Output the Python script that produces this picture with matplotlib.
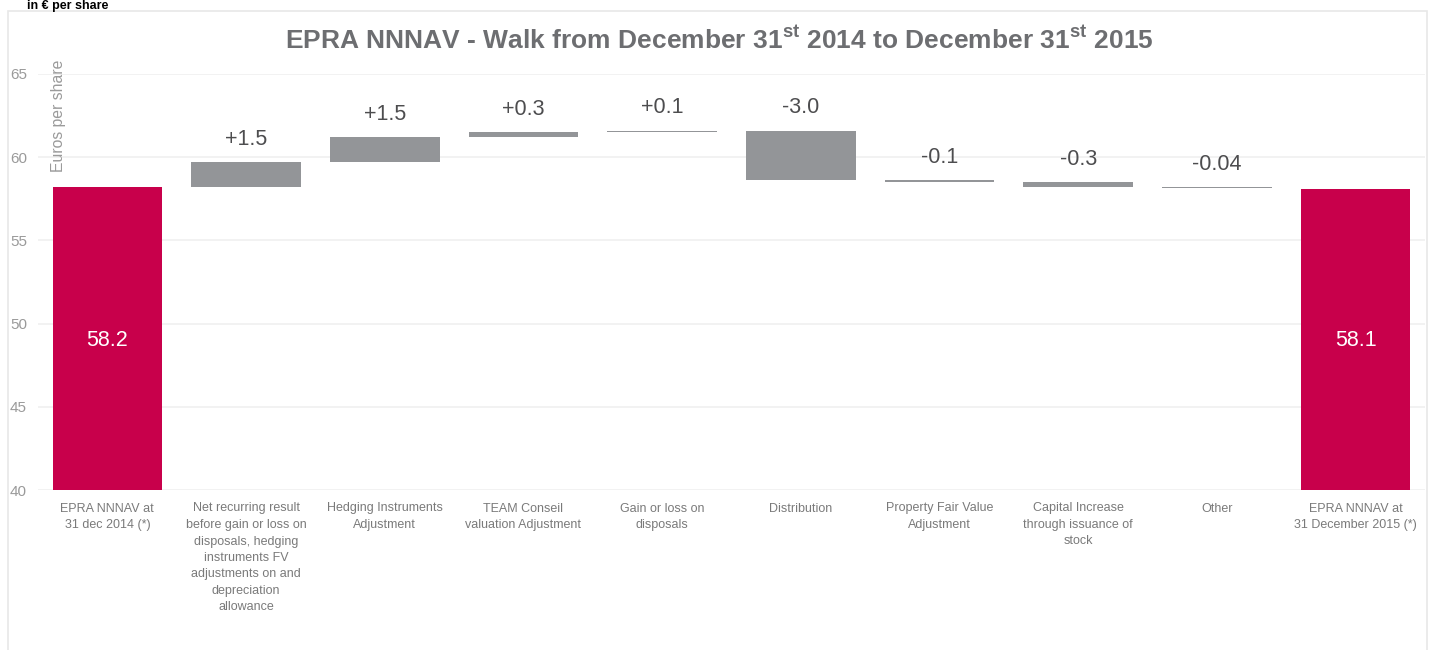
import matplotlib
matplotlib.use('agg')
import matplotlib.pyplot as plt
from matplotlib.patches import Rectangle
import numpy as np

plt.rcParams['font.family'] = ['Liberation Sans', 'DejaVu Sans']
plt.rcParams['mathtext.fontset'] = 'custom'
plt.rcParams['mathtext.rm'] = 'Liberation Sans:bold'

# data
categories = [
    "EPRA NNNAV at\n31 dec 2014 (*)",
    "Net recurring result\nbefore gain or loss on\ndisposals, hedging\ninstruments FV\nadjustments on and\ndepreciation\nallowance",
    "Hedging Instruments\nAdjustment",
    "TEAM Conseil\nvaluation Adjustment",
    "Gain or loss on\ndisposals",
    "Distribution",
    "Property Fair Value\nAdjustment",
    "Capital Increase\nthrough issuance of\nstock",
    "Other",
    "EPRA NNNAV at\n31 December 2015 (*)",
]
start_value = 58.2
end_value = 58.1
deltas = [1.5, 1.5, 0.3, 0.1, -3.0, -0.1, -0.3, -0.04]
delta_labels = ["+1.5", "+1.5", "+0.3", "+0.1", "-3.0", "-0.1", "-0.3", "-0.04"]
yticks = [40, 45, 50, 55, 60, 65]

red = '#c8004b'
grey = '#939598'

fig = plt.figure(figsize=(14.38, 6.5), dpi=100)
ax = fig.add_axes([38 / 1438, 1 - 490 / 650, (1425 - 38) / 1438, (490 - 74) / 650])

# outer light frame
fig.patches.append(Rectangle((8 / 1438, -0.1), (1427 - 8) / 1438, 1.1 - 11 / 650,
                             transform=fig.transFigure, fill=False,
                             edgecolor='#e8e8e8', linewidth=1.2))

base = 40
width = 0.79

# start and end bars
ax.bar(0, start_value - base, bottom=base, width=width, color=red, zorder=3)
ax.bar(9, end_value - base, bottom=base, width=width, color=red, zorder=3)
ax.text(0, 49, f"{start_value:.1f}", ha='center', va='center', color='white', fontsize=15.5)
ax.text(9, 49, f"{end_value:.1f}", ha='center', va='center', color='white', fontsize=15.5)

# floating bars
level = start_value
for i, (d, lab) in enumerate(zip(deltas, delta_labels)):
    x = i + 1
    lo = min(level, level + d)
    hi = max(level, level + d)
    ax.bar(x, hi - lo, bottom=lo, width=width, color=grey, zorder=3)
    ax.annotate(lab, (x, hi), xytext=(0, 9), textcoords='offset points',
                ha='center', va='bottom', fontsize=15.5, color='#4d4d4f')
    level += d

ax.set_xlim(-0.5, 9.5)
ax.set_ylim(40, 65)
ax.set_yticks(yticks)
ax.set_xticks(range(len(categories)))
ax.set_xticklabels(categories, fontsize=9, color='#7a7a7a', linespacing=1.5)
ax.tick_params(axis='x', length=0, pad=9)
ax.tick_params(axis='y', length=0, pad=8, labelsize=11, labelcolor='#9a9a9a')
ax.grid(axis='y', color='#f0f0f0', linewidth=1.2, zorder=0)
for s in ax.spines.values():
    s.set_visible(False)

ax.text(-0.35, 65.85, "Euros per share", rotation=90, ha='center', va='top',
        fontsize=11.3, color='#9a9a9a')

fig.text(0.5, 1 - 40 / 650,
         r"EPRA NNNAV - Walk from December 31$^{\mathrm{st}}$ 2014 to December 31$^{\mathrm{st}}$ 2015",
         ha='center', va='center', fontsize=19, fontweight='bold', color='#6d6e71')
fig.text(27 / 1438, 1.0, "in € per share", ha='left', va='top',
         fontsize=9, fontweight='bold', color='black')

plt.savefig('out.png', dpi=100)
